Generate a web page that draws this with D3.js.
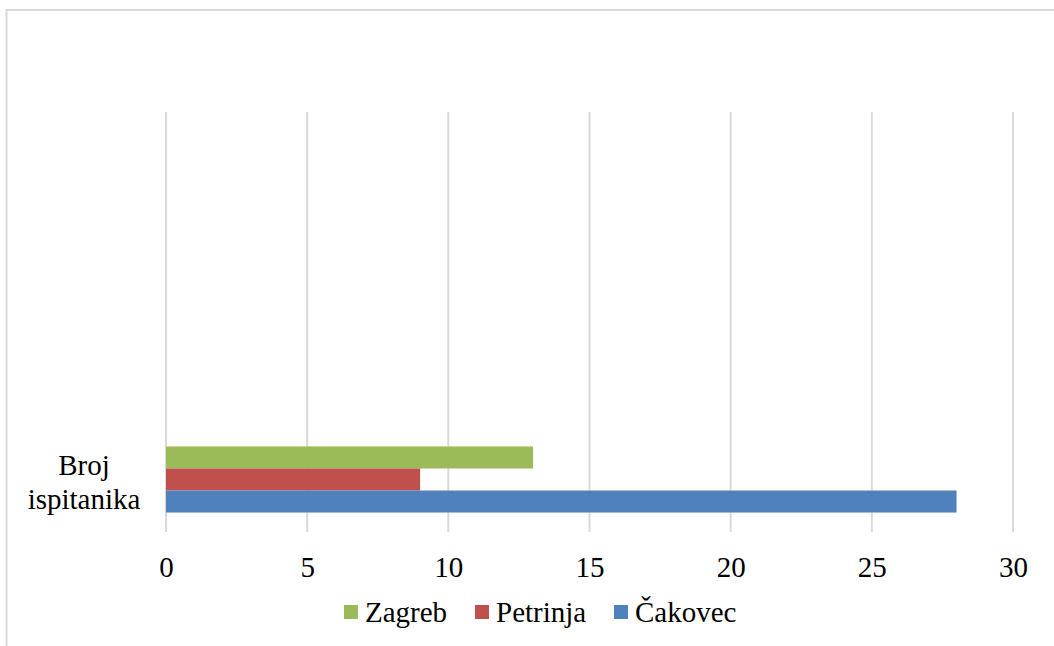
<!DOCTYPE html>
<html>
<head>
<meta charset="utf-8">
<script src="https://cdn.jsdelivr.net/npm/d3@7"></script>
<style>
  body { margin: 0; background: #fff; }
</style>
</head>
<body>
<div id="wrapper"></div>
<script>
const categories = ["Broj ispitanika"];
const seriesNames = ["Zagreb", "Petrinja", "Čakovec"];
const seriesValues = [13, 9, 28];
const xTicks = [0, 5, 10, 15, 20, 25, 30];
const seriesColors = ["#9bbb59", "#c0504d", "#4f81bd"];

const serifFont = "'Times New Roman', Tinos, 'Liberation Serif', serif";

let dimensions = {
    width: 1054,
    height: 646,
    margin: { top: 112, right: 41, bottom: 114, left: 166 }
}
dimensions.boundedWidth = dimensions.width - dimensions.margin.left - dimensions.margin.right;
dimensions.boundedHeight = dimensions.height - dimensions.margin.top - dimensions.margin.bottom;

const svgRoot = d3.select("#wrapper")
    .append("svg")
    .attr("width", dimensions.width)
    .attr("height", dimensions.height)
    .style("font-family", serifFont);

// chart frame (only top and left edges fall inside the picture)
svgRoot.append("rect")
    .attr("x", 6.5)
    .attr("y", 10)
    .attr("width", 1200)
    .attr("height", 800)
    .attr("fill", "none")
    .attr("stroke", "#d9d9d9")
    .attr("stroke-width", 2);

const svg = svgRoot.append("g")
    .attr("transform", `translate(${dimensions.margin.left},${dimensions.margin.top})`);

const xScale = d3.scaleLinear()
    .domain([0, 30])
    .range([0, dimensions.boundedWidth]);

// the single category sits in the bottom slot of the plot area
const slot = 105;
const yScale = d3.scaleBand()
    .domain(categories)
    .range([dimensions.boundedHeight - slot, dimensions.boundedHeight])
    .paddingOuter(0.295);

const ySeries = d3.scaleBand()
    .domain(seriesNames)
    .range([0, yScale.bandwidth()]);

const color = d3.scaleOrdinal().domain(seriesNames).range(seriesColors);

// gridlines
svg.append("g")
    .selectAll("line")
    .data(xTicks)
    .join("line")
    .attr("x1", d => xScale(d))
    .attr("x2", d => xScale(d))
    .attr("y1", 0)
    .attr("y2", dimensions.boundedHeight)
    .attr("stroke", "#d9d9d9")
    .attr("stroke-width", 2);

// bars
const rows = categories.map(c => seriesNames.map((s, i) => ({ category: c, series: s, value: seriesValues[i] })));
svg.append("g")
    .selectAll("g")
    .data(rows)
    .join("g")
    .attr("transform", d => `translate(0,${yScale(d[0].category)})`)
    .selectAll("rect")
    .data(d => d)
    .join("rect")
    .attr("x", xScale(0))
    .attr("y", d => ySeries(d.series))
    .attr("width", d => xScale(d.value) - xScale(0))
    .attr("height", ySeries.bandwidth())
    .attr("fill", d => color(d.series));

// x axis labels
const xAxis = svg.append("g")
    .attr("transform", `translate(0,${dimensions.boundedHeight})`)
    .call(d3.axisBottom(xScale).tickValues(xTicks).tickSize(0).tickPadding(24));
xAxis.attr("font-family", null).attr("font-size", null);
xAxis.select(".domain").remove();
xAxis.selectAll("text")
    .style("font-family", serifFont)
    .style("font-size", "29px")
    .attr("fill", "#000");

// category label, wrapped on two lines
const yLabel = svg.append("g")
    .selectAll("text")
    .data(categories)
    .join("text")
    .attr("x", -82)
    .attr("y", d => yScale(d) + yScale.bandwidth() / 2)
    .attr("text-anchor", "middle")
    .style("font-family", serifFont)
    .style("font-size", "29px");
yLabel.each(function (d) {
    const words = d.split(" ");
    d3.select(this).selectAll("tspan")
        .data(words)
        .join("tspan")
        .attr("x", -82)
        .attr("dy", (w, i) => i === 0 ? "-0.15em" : "1.17em")
        .text(w => w);
});

// legend
const legendX = [344, 475, 614];
const legend = svgRoot.append("g")
    .selectAll("g")
    .data(seriesNames)
    .join("g")
    .attr("transform", (d, i) => `translate(${legendX[i]},605)`);
legend.append("rect")
    .attr("width", 14)
    .attr("height", 14)
    .attr("fill", d => color(d));
legend.append("text")
    .attr("x", 21)
    .attr("y", 16.5)
    .style("font-family", serifFont)
    .style("font-size", "29px")
    .text(d => d);
</script>
</body>
</html>
